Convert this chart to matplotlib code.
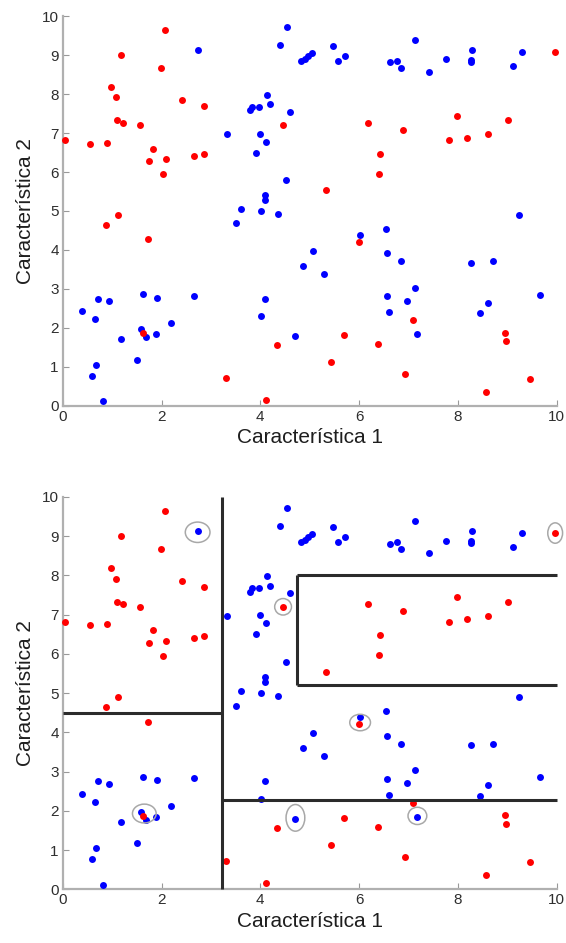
import matplotlib
matplotlib.use("Agg")
import matplotlib.pyplot as plt
from matplotlib.patches import Ellipse

plt.rcParams["font.family"] = ["Liberation Sans", "DejaVu Sans"]

# class 1 (blue) and class 2 (red) samples
blue_x = [2.74, 3.33, 4.54, 4.39, 4.82, 4.90, 4.97, 5.04, 4.14, 4.20, 3.83, 3.79,
          3.97, 4.60, 4.00, 4.11, 3.91, 4.52, 4.10, 4.10, 3.60, 4.01, 4.35, 3.51,
          0.39, 0.65, 0.72, 0.93, 0.59, 0.68, 0.82, 1.17, 1.50, 1.58, 1.69, 1.63,
          1.91, 1.89, 2.19, 2.66, 4.02, 4.10, 4.71, 4.86, 5.06, 5.29, 6.02, 6.55,
          6.56, 6.84, 7.14, 6.57, 6.97, 6.60, 7.17, 8.44, 8.61, 8.26, 8.71, 9.66,
          9.24, 5.48, 5.57, 5.71, 7.14, 6.62, 6.77, 6.84, 7.41, 7.76, 8.29, 8.26,
          8.27, 9.30, 9.11]
blue_y = [9.12, 6.97, 9.71, 9.26, 8.84, 8.90, 8.97, 9.05, 7.98, 7.74, 7.67, 7.59,
          7.67, 7.55, 6.98, 6.78, 6.50, 5.80, 5.41, 5.28, 5.06, 5.00, 4.92, 4.68,
          2.44, 2.22, 2.75, 2.68, 0.77, 1.05, 0.12, 1.71, 1.18, 1.97, 1.76, 2.87,
          2.78, 1.84, 2.12, 2.83, 2.31, 2.75, 1.79, 3.60, 3.98, 3.39, 4.39, 4.54,
          3.91, 3.71, 3.03, 2.81, 2.70, 2.40, 1.85, 2.38, 2.65, 3.67, 3.71, 2.85,
          4.91, 9.23, 8.85, 8.98, 9.39, 8.81, 8.85, 8.68, 8.57, 8.89, 9.13, 8.88,
          8.83, 9.09, 8.73]

red_x = [0.04, 0.55, 0.89, 0.98, 1.07, 1.18, 1.09, 1.22, 1.56, 1.82, 1.74, 2.08,
         2.02, 1.98, 2.07, 2.42, 2.85, 2.66, 2.86, 4.45, 1.12, 0.87, 1.72, 1.63,
         3.31, 4.12, 4.34, 6.00, 7.10, 5.69, 6.39, 5.43, 6.92, 8.57, 9.45, 8.96,
         8.97, 9.97, 6.18, 6.88, 7.99, 7.82, 8.19, 8.61, 9.01, 6.42, 6.41, 5.33]
red_y = [6.82, 6.73, 6.75, 8.19, 7.92, 9.00, 7.33, 7.26, 7.20, 6.60, 6.27, 6.33,
         5.94, 8.68, 9.64, 7.85, 7.70, 6.41, 6.46, 7.20, 4.90, 4.65, 4.27, 1.86,
         0.71, 0.15, 1.57, 4.21, 2.20, 1.81, 1.59, 1.14, 0.82, 0.37, 0.69, 1.88,
         1.66, 9.08, 7.26, 7.09, 7.44, 6.82, 6.88, 6.97, 7.33, 6.47, 5.96, 5.53]

# decision tree split boundaries: (x0, x1), (y0, y1)
split_segments = [
    ((3.23, 3.23), (0.0, 10.0)),
    ((0.0, 3.23), (4.50, 4.50)),
    ((3.23, 10.0), (2.27, 2.27)),
    ((4.75, 10.0), (8.00, 8.00)),
    ((4.75, 4.75), (5.21, 8.00)),
    ((4.75, 10.0), (5.21, 5.21)),
]

# misclassified samples (centre x, centre y, width, height)
errors_x = [2.73, 4.46, 1.65, 4.71, 6.02, 7.18, 9.97]
errors_y = [9.10, 7.20, 1.93, 1.82, 4.25, 1.87, 9.08]
errors_w = [0.50, 0.34, 0.48, 0.38, 0.42, 0.38, 0.30]
errors_h = [0.52, 0.42, 0.48, 0.68, 0.42, 0.44, 0.52]

fig = plt.figure(figsize=(5.66, 9.43), dpi=100)
ax_top = fig.add_axes([0.111, 0.5695, 0.8725, 0.4135])
ax_bot = fig.add_axes([0.111, 0.057, 0.8725, 0.416])


def style_axes(ax):
    ax.set_xlim(0, 10)
    ax.set_ylim(0, 10)
    ax.set_xticks(range(0, 11, 2))
    ax.set_yticks(range(0, 11))
    for side in ("top", "right"):
        ax.spines[side].set_visible(False)
    for side in ("left", "bottom"):
        ax.spines[side].set_color("#b0b0b0")
        ax.spines[side].set_linewidth(1.6)
    ax.tick_params(direction="in", length=4, width=0.8, color="#999999",
                   labelsize=11, labelcolor="#2e2e2e", pad=3)
    ax.set_xlabel("Característica 1", fontsize=15, color="#1e1e1e", labelpad=3)
    ax.set_ylabel("Característica 2", fontsize=15, color="#1e1e1e", labelpad=5)


for ax in (ax_top, ax_bot):
    ax.plot(blue_x, blue_y, "o", color="#0000ff", markersize=5,
            markeredgewidth=0, clip_on=False, zorder=3)
    ax.plot(red_x, red_y, "o", color="#ff0000", markersize=5,
            markeredgewidth=0, clip_on=False, zorder=3)
    style_axes(ax)

for xs, ys in split_segments:
    ax_bot.plot(xs, ys, color="#2b2b2b", linewidth=2.2, solid_capstyle="butt",
                clip_on=False, zorder=4)

for cx, cy, w, h in zip(errors_x, errors_y, errors_w, errors_h):
    ax_bot.add_patch(Ellipse((cx, cy), w, h, fill=False, edgecolor="#a8a8a8",
                             linewidth=1.1, clip_on=False, zorder=5))

fig.savefig("out.png", dpi=100)
